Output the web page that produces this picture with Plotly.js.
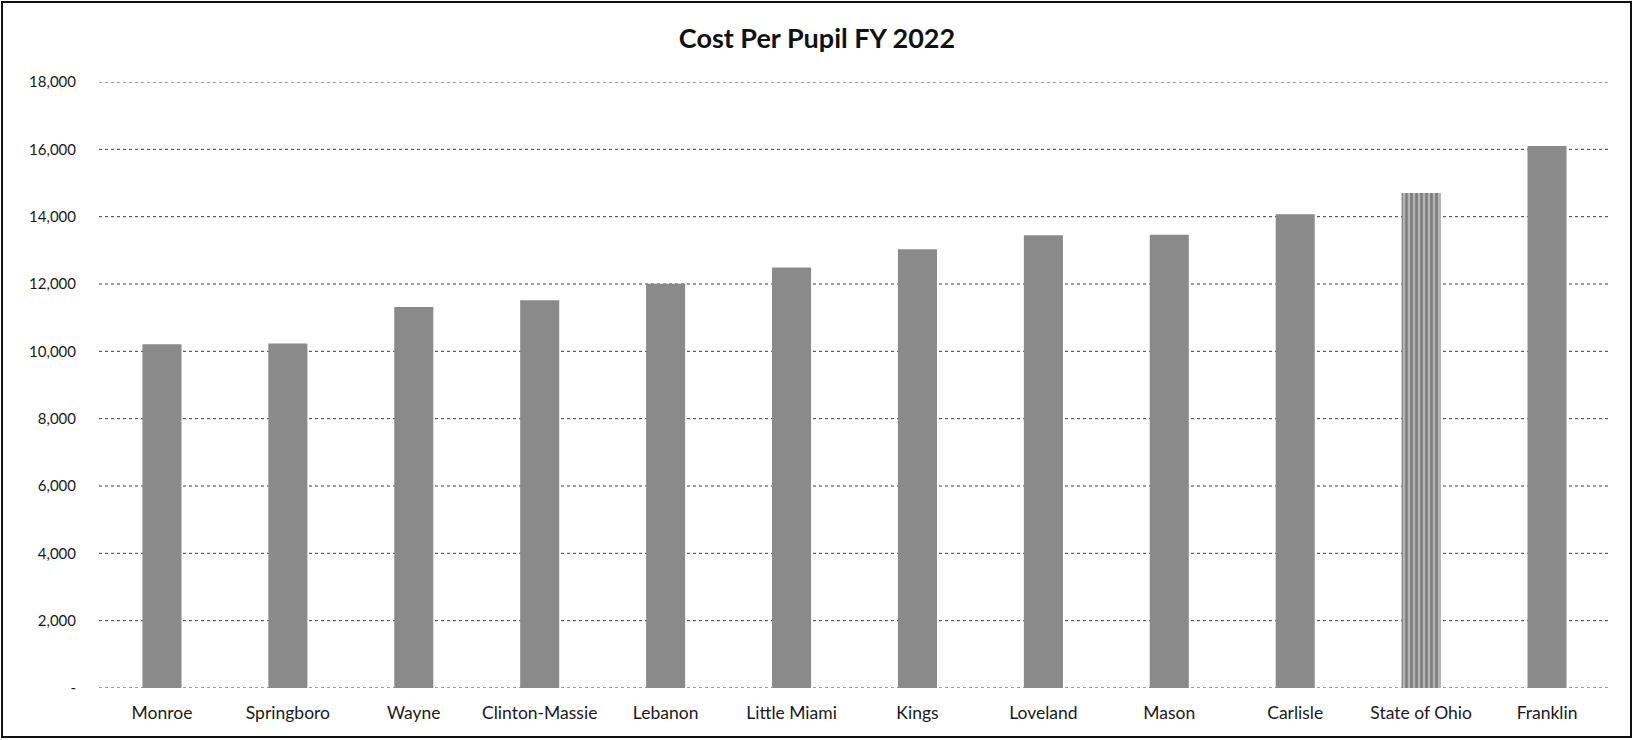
<!DOCTYPE html>
<html>
<head>
<meta charset="utf-8">
<script src="https://cdn.plot.ly/plotly-3.0.1.min.js"></script>
<style>
  html, body { margin: 0; padding: 0; background: #fff; }
  #chart { width: 1634px; height: 740px; }
</style>
</head>
<body>
<div id="chart"></div>
<script>
// Data
const districts = ["Monroe", "Springboro", "Wayne", "Clinton-Massie", "Lebanon", "Little Miami",
                   "Kings", "Loveland", "Mason", "Carlisle", "State of Ohio", "Franklin"];
const costPerPupil = [10210, 10230, 11320, 11520, 12010, 12490, 13030, 13450, 13460, 14070, 14700, 16100];
const yTickValues = [0, 2000, 4000, 6000, 8000, 10000, 12000, 14000, 16000, 18000];
const yTickLabels = ["-", "2,000", "4,000", "6,000", "8,000", "10,000", "12,000", "14,000", "16,000", "18,000"];
const chartTitle = "Cost Per Pupil FY 2022";

const W = 1634, H = 740;
const M = { l: 99, r: 24, t: 82, b: 52 };
const pw = W - M.l - M.r, ph = H - M.t - M.b;

const isState = districts.map(d => d === "State of Ohio");

const trace = {
  type: "bar",
  x: districts,
  y: costPerPupil,
  width: 0.31,
  marker: {
    color: isState.map(s => s ? "#b4b4b4" : "#8a8a8a"),
    line: { width: 0 },
    pattern: {
      shape: isState.map(s => s ? "|" : ""),
      fillmode: "overlay",
      fgcolor: "#2e2e2e",
      size: 5,
      solidity: 0.5
    }
  },
  hoverinfo: "x+y"
};

const font = "Lato, 'Open Sans', 'Liberation Sans', sans-serif";

// gridlines drawn for every y tick value (incl. the top edge and zero)
const gridShapes = yTickValues.map(v => ({
  type: "line", xref: "paper", yref: "y",
  x0: 0, x1: 1, y0: v, y1: v,
  line: { color: "#3c3c3c", width: 1, dash: "dot" },
  layer: "below"
}));

const layout = {
  width: W,
  height: H,
  margin: M,
  paper_bgcolor: "#ffffff",
  plot_bgcolor: "#ffffff",
  showlegend: false,
  font: { family: font, size: 14, color: "#1a1a1a" },
  title: {
    text: "<b>" + chartTitle + "</b>",
    font: { family: font, size: 27, color: "#111" },
    x: 0.5,
    xanchor: "center",
    y: 1 - 39 / H,
    yanchor: "middle"
  },
  xaxis: {
    type: "category",
    showgrid: false,
    zeroline: false,
    showline: false,
    ticks: "",
    tickfont: { family: font, size: 17.5, color: "#1a1a1a" },
    ticklabelstandoff: 12,
    fixedrange: true
  },
  yaxis: {
    range: [0, 18000],
    tickvals: yTickValues,
    ticktext: yTickLabels,
    showgrid: false,
    zeroline: false,
    showline: false,
    ticks: "",
    tickfont: { family: font, size: 15, color: "#1a1a1a" },
    ticklabelstandoff: 22,
    fixedrange: true
  },
  shapes: gridShapes.concat([
    {
      type: "rect", xref: "paper", yref: "paper",
      x0: (2 - M.l) / pw, x1: (W - 3 - M.l) / pw,
      y0: -(H - 3 - M.t - ph) / ph, y1: 1 + (M.t - 2) / ph,
      line: { color: "#111111", width: 2 },
      fillcolor: "rgba(0,0,0,0)"
    }
  ])
};

Plotly.newPlot("chart", [trace], layout, { displayModeBar: false, staticPlot: true });
</script>
</body>
</html>
